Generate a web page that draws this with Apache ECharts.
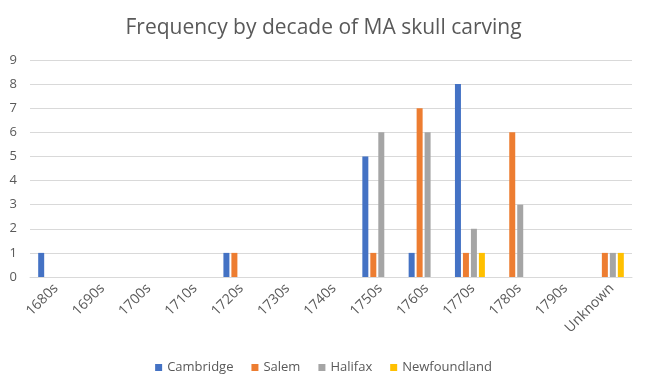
<!DOCTYPE html>
<html><head><meta charset="utf-8">
<script src="https://cdn.jsdelivr.net/npm/echarts@6/dist/echarts.min.js"></script>
<style>html,body{margin:0;padding:0;background:#fff}#c{width:647px;height:389px}</style>
</head><body><div id="c"></div>
<script>
const categories = ['1680s','1690s','1700s','1710s','1720s','1730s','1740s','1750s','1760s','1770s','1780s','1790s','Unknown'];
const cambridge = [1,null,null,null,1,null,null,5,1,8,null,null,null];
const salem = [null,null,null,null,1,null,null,1,7,1,6,null,1];
const halifax = [null,null,null,null,null,null,null,6,6,2,3,null,1];
const newfoundland = [null,null,null,null,null,null,null,null,null,1,null,null,1];
const yTicks = [0,1,2,3,4,5,6,7,8,9];

const font = 'Open Sans';
const chart = echarts.init(document.getElementById('c'));
const mk = (name, data, color) => ({name, type:'bar', data, barWidth:6, barGap:'33%', itemStyle:{color}});
chart.setOption({
  animation:false,
  title:{text:'Frequency by decade of MA skull carving', left:'center', top:13,
    textStyle:{fontFamily:font, fontSize:21, fontWeight:'normal', color:'#595959'}},
  grid:{left:30, right:15, top:60, bottom:112},
  legend:{bottom:10, left:'center', itemWidth:7, itemHeight:7, itemGap:18, icon:'rect',
    textStyle:{fontFamily:font, fontSize:13, color:'#595959'}},
  xAxis:{type:'category', data:categories,
    axisLine:{lineStyle:{color:'#d9d9d9'}}, axisTick:{show:false},
    axisLabel:{rotate:45, interval:0, fontFamily:font, fontSize:14, color:'#595959', margin:12, padding:[0,-4,0,0]}},
  yAxis:{type:'value', min:yTicks[0], max:yTicks[yTicks.length-1], interval:1,
    axisLine:{show:false}, axisTick:{show:false},
    splitLine:{lineStyle:{color:'#d9d9d9'}},
    axisLabel:{fontFamily:font, fontSize:13, color:'#595959', margin:13}},
  series:[mk('Cambridge',cambridge,'#4472C4'), mk('Salem',salem,'#ED7D31'), mk('Halifax',halifax,'#A5A5A5'), mk('Newfoundland',newfoundland,'#FFC000')]
});
</script></body></html>
